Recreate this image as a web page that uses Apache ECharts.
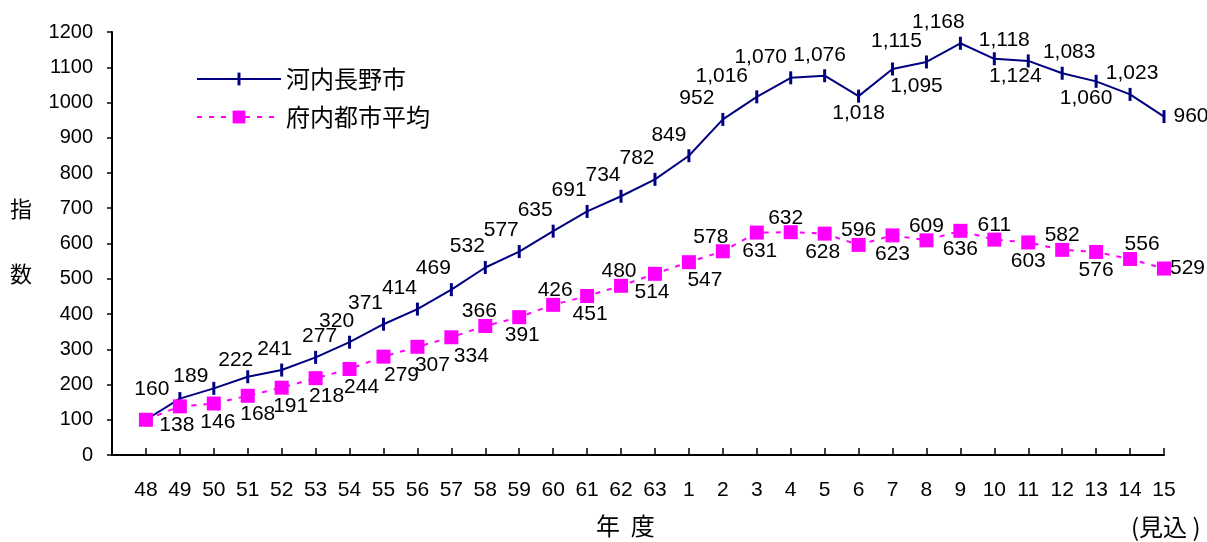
<!DOCTYPE html>
<html>
<head>
<meta charset="utf-8">
<script src="https://cdn.jsdelivr.net/npm/echarts@6/dist/echarts.min.js"></script>
<style>
html,body{margin:0;padding:0;background:#fff;}
#c{width:1207px;height:542px;}
</style>
</head>
<body>
<div id="c"></div>
<script>
// ---- data ----
const categories = ['48','49','50','51','52','53','54','55','56','57','58','59','60','61','62','63',
  '1','2','3','4','5','6','7','8','9','10','11','12','13','14','15'];
const kawachinagano = [100,160,189,222,241,277,320,371,414,469,532,577,635,691,734,782,
  849,952,1016,1070,1076,1018,1095,1115,1168,1124,1118,1083,1060,1023,960];
const fuchiAverage = [100,138,146,168,191,218,244,279,307,334,366,391,426,451,480,514,
  547,578,631,632,628,596,623,609,636,611,603,582,576,556,529];
const seriesNames = ['河内長野市','府内都市平均'];
const yTicks = {min:0, max:1200, step:100};
// label placement (index lists) and small label nudges [dx, dy]
const s1LabelBelow = [21,22,25,28];
const s2LabelAbove = [10,12,14,17,19,21,23,25,27,29];
const s1Nudge = {1:[-28,12],2:[-23,9],3:[-12,4],4:[-7,0],5:[4,0],6:[-13,0],
  16:[-20,0],17:[-26,0],18:[-35,0],19:[-30,0],20:[-5,0],22:[24,0],23:[-30,0],
  24:[-22,0],25:[21,0],26:[-24,0],27:[7,0],28:[-10,0],29:[2,0]};
const s2Nudge = {1:[-3,0],2:[4,0],3:[10,0],4:[9,0],5:[11,0],6:[12,0],7:[18,0],8:[15,0],
  9:[20,0],10:[-6,0],11:[3,0],12:[2,0],13:[3,0],14:[-2,0],15:[-3,0],16:[16,0],17:[-12,0],
  18:[3,0],19:[-5,0],20:[-2,0],29:[12,0]};

const NAVY = '#000080', MAG = '#FF00FF';
const FONT = "'Liberation Sans', Arial, 'Noto Sans CJK JP', sans-serif";
const CJK = "'Noto Sans CJK JP', sans-serif";
const fmt = v => v.toLocaleString('en-US');
const last = categories.length - 1;
// vertical dash marker inside a square box
const DASH = 'path://M0,0M13,13M5,0L8,0L8,13L5,13Z';

function s1Label(i){
  if (i === 0) return {show:false};
  if (i === last) return {show:true, position:'right', distance:3};
  const below = s1LabelBelow.includes(i);
  const n = s1Nudge[i] || (below ? [0,0] : [-18,0]);
  return {show:true, position: below ? 'bottom' : 'top', distance: below ? 0 : 4, offset:n};
}
function s2Label(i){
  if (i === 0) return {show:false};
  if (i === last) return {show:true, position:'right', distance:-1};
  const above = s2LabelAbove.includes(i);
  const n = s2Nudge[i] || [0,0];
  return {show:true, position: above ? 'top' : 'bottom', distance: above ? -3 : 1, offset:n};
}

const chart = echarts.init(document.getElementById('c'), null, {renderer:'canvas'});
chart.setOption({
  animation:false,
  backgroundColor:'#fff',
  grid:{left:112, right:43, top:32, bottom:87, containLabel:false},
  xAxis:{
    type:'value', min:-1, max:last, interval:1,
    axisLine:{onZero:false, lineStyle:{color:'#000', width:2}},
    axisTick:{inside:true, length:7, lineStyle:{color:'#000', width:1.5}},
    axisLabel:{
      margin:25, fontSize:21, fontFamily:FONT, color:'#000',
      formatter: v => (v >= 0 && categories[v] !== undefined) ? categories[v] : ''
    },
    splitLine:{show:false}
  },
  yAxis:{
    type:'value', min:yTicks.min, max:yTicks.max, interval:yTicks.step,
    axisLine:{show:true, onZero:false, lineStyle:{color:'#000', width:2}},
    axisTick:{show:true, inside:false, length:5, lineStyle:{color:'#000', width:1.5}},
    axisLabel:{margin:19, fontSize:20, fontFamily:FONT, color:'#000', formatter: v => String(v)},
    splitLine:{show:false}
  },
  legend:{
    orient:'vertical', left:191, top:62, itemGap:14,
    itemWidth:84, itemHeight:16,
    textStyle:{fontSize:24, fontFamily:CJK, color:'#000'},
    data:seriesNames
  },
  graphic:[
    {type:'text', left:10, top:198, style:{text:'指', font:`22px ${CJK}`, fill:'#000'}},
    {type:'text', left:10, top:263, style:{text:'数', font:`22px ${CJK}`, fill:'#000'}},
    {type:'text', left:596, top:514, style:{text:'年  度', font:`24px ${CJK}`, fill:'#000'}},
    {type:'text', left:1131, top:515, style:{text:'(見込 )', font:`24px ${CJK}`, fill:'#000'}}
  ],
  series:[
    {
      name:seriesNames[0], type:'line',
      data: kawachinagano.map((v,i)=>({value:[i,v], label:s1Label(i)})),
      symbol:DASH, symbolSize:13,
      itemStyle:{color:NAVY},
      lineStyle:{color:NAVY, width:2},
      label:{fontSize:21, fontFamily:FONT, color:'#000', formatter:p=>fmt(p.value[1])},
      z:2
    },
    {
      name:seriesNames[1], type:'line',
      data: fuchiAverage.map((v,i)=>({value:[i,v], label:s2Label(i)})),
      symbol:'rect', symbolSize:14,
      itemStyle:{color:MAG},
      lineStyle:{color:MAG, width:2, type:[5,7]},
      label:{fontSize:21, fontFamily:FONT, color:'#000', formatter:p=>fmt(p.value[1])},
      z:3
    }
  ]
});
</script>
</body>
</html>
